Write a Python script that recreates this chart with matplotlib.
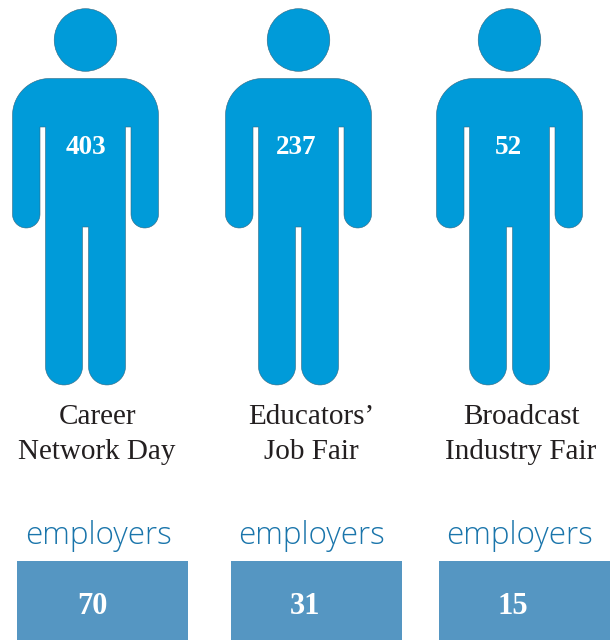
import numpy as np
import matplotlib
matplotlib.use("Agg")
import matplotlib.pyplot as plt
from matplotlib.patches import Circle, PathPatch, Rectangle
from matplotlib.path import Path

events = ["Career\nNetwork Day", "Educators’\nJob Fair", "Broadcast\nIndustry Fair"]
attendees = [403, 237, 52]
employers = [70, 31, 15]
employer_label = "employers"

person_x = [85.5, 298.5, 509.5]
label_x = [97, 311, 521]
value_x = [85.5, 296, 508]
box_left = [17, 231, 439]
box_w = 170.5
emp_label_x = [98.5, 312, 520]
emp_value_x = [92, 305, 513]

BLUE = "#009bd9"
EDGE = "#33667f"
BOX = "#5596c2"
TXT = "#231f20"
EMP = "#1a75ab"

fig = plt.figure(figsize=(6.16, 6.40), dpi=100, facecolor="white")
ax = fig.add_axes([0, 0, 1, 1])
ax.set_xlim(0, 616)
ax.set_ylim(640, 0)
ax.axis("off")


def arc(cx, cy, r, a0, a1, n=24):
    t = np.radians(np.linspace(a0, a1, n))
    return np.column_stack([cx + r * np.cos(t), cy + r * np.sin(t)])


def body_outline(cx):
    # Right half of the pictogram, outer edge, from top centre to the crotch.
    top, sh_r = 78.5, 37.0
    outer, inner, torso, gap = 73.0, 45.5, 40.0, 3.0
    pit, arm_end, crotch, foot = 127.0, 228.0, 227.0, 385.0
    arm_r = (outer - inner) / 2
    leg_r = (torso - gap) / 2
    pts = [np.array([[0, top]]),
           arc(outer - sh_r, top + sh_r, sh_r, -90, 0),
           arc(outer - arm_r, arm_end - arm_r, arm_r, 0, 180),
           np.array([[inner, pit], [torso, pit]]),
           arc(torso - leg_r, foot - leg_r, leg_r, 0, 180),
           np.array([[gap, crotch], [0, crotch]])]
    right = np.vstack(pts)
    left = right[::-1] * np.array([-1, 1])
    xy = np.vstack([right, left[1:]])
    xy[:, 0] += cx
    return Path(np.vstack([xy, xy[:1]]), closed=True)


for i in range(3):
    cx = person_x[i]
    ax.add_patch(Circle((cx, 40), 31.3, fc=BLUE, ec=EDGE, lw=0.4))
    ax.add_patch(PathPatch(body_outline(cx), fc=BLUE, ec=EDGE, lw=0.4))
    ax.text(value_x[i], 148, str(attendees[i]), color="white", ha="center", va="center",
            family="Liberation Serif", weight="bold", fontsize=19.5)
    ax.text(label_x[i], 434.5, events[i], color=TXT, ha="center", va="center",
            family="Liberation Serif", fontsize=21, linespacing=1.46)
    ax.text(emp_label_x[i], 536, employer_label, color=EMP, ha="center", va="center",
            family="Open Sans", weight="light", fontsize=22.6)
    ax.add_patch(Rectangle((box_left[i], 561), box_w, 79, fc=BOX, ec="none"))
    ax.text(emp_value_x[i], 606.5, str(employers[i]), color="white", ha="center", va="center",
            family="Liberation Serif", weight="bold", fontsize=22)

fig.savefig("out.png", dpi=100, facecolor="white")
